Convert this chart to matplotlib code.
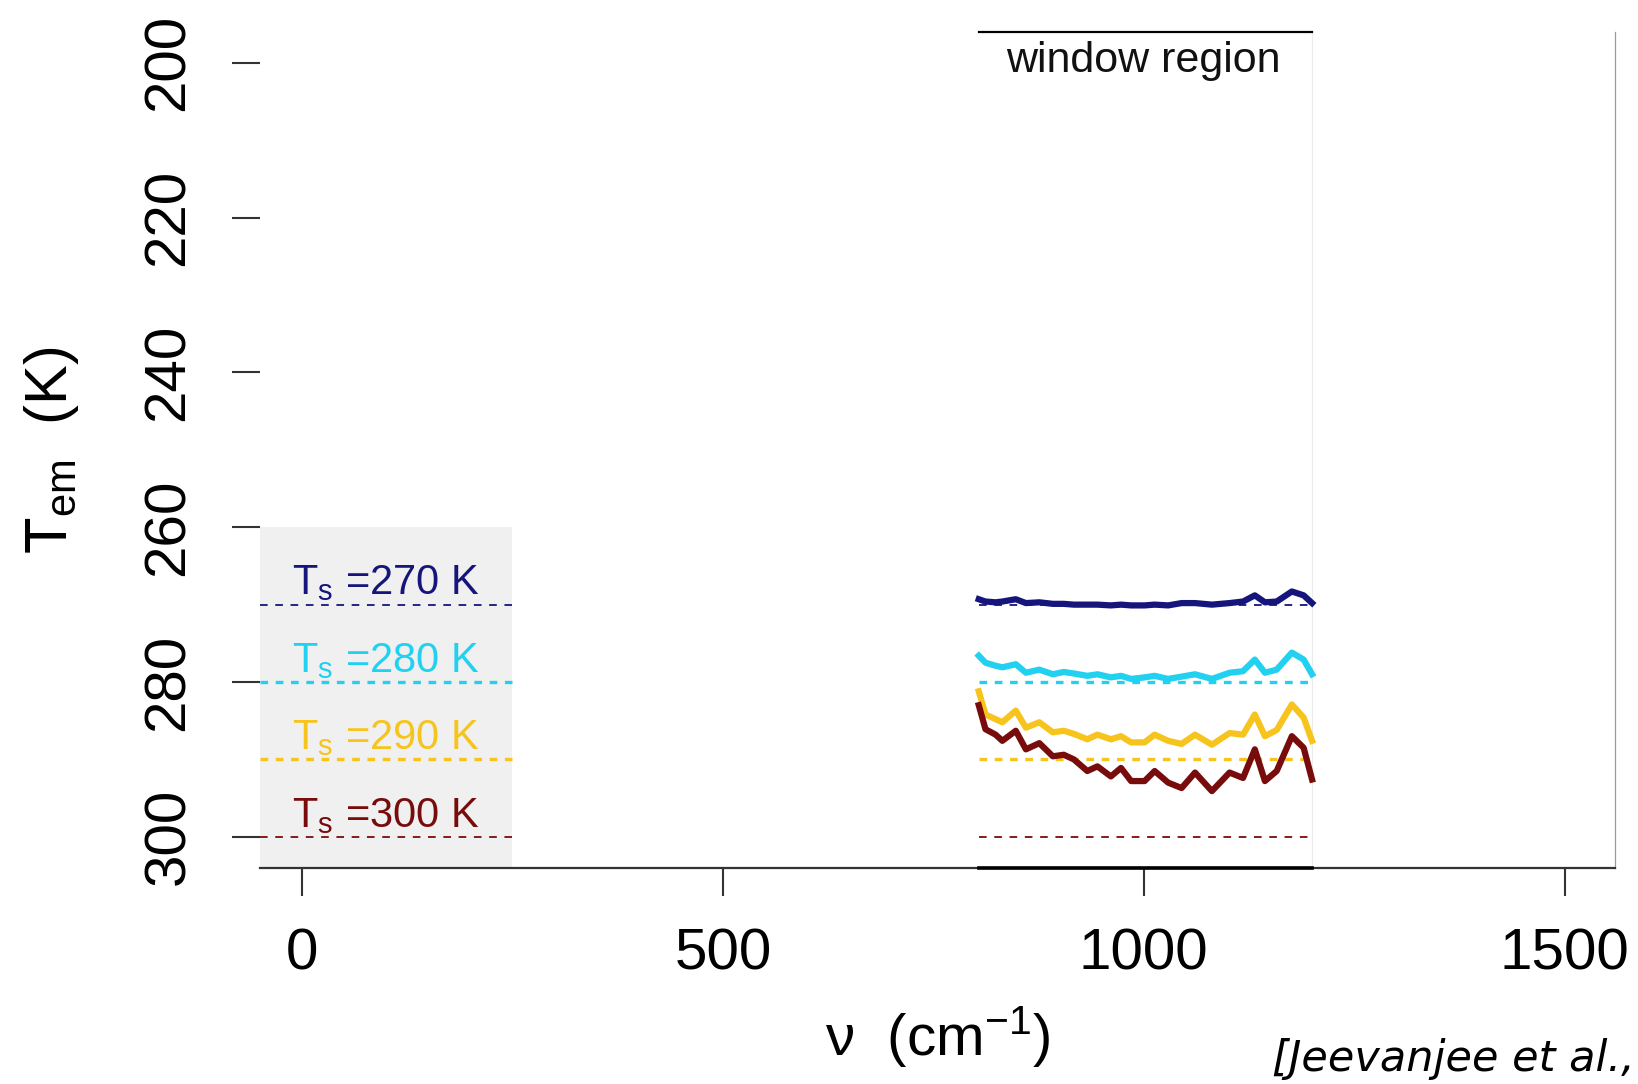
import numpy as np
import matplotlib

matplotlib.use("Agg")
import matplotlib.pyplot as plt

plt.rcParams["font.family"] = ["Liberation Sans", "DejaVu Sans"]
plt.rcParams["mathtext.fontset"] = "custom"
plt.rcParams["mathtext.rm"] = "Liberation Sans"
plt.rcParams["mathtext.it"] = "Liberation Sans:italic"
plt.rcParams["lines.scale_dashes"] = False

# surface temperatures and their colours
surface_temps = [270, 280, 290, 300]
colors = ["#15157c", "#22d0f0", "#f6c41c", "#780c0c"]
dash_widths = [1.3, 2.4, 2.4, 1.3]

# wavenumber grid inside the window region (cm^-1)
nu = [804, 812, 824, 832, 848, 860, 876, 892, 905, 917, 933, 945, 961, 973, 985,
      1001, 1013, 1029, 1045, 1061, 1081, 1102, 1118, 1132, 1144, 1158, 1176, 1190, 1200]

# emission temperature (K) for each surface temperature
tem_270 = [269.3, 269.6, 269.7, 269.6, 269.3, 269.8, 269.7, 269.9, 269.9, 270.0, 270.0,
           270.0, 270.1, 270.0, 270.1, 270.1, 270.0, 270.1, 269.8, 269.8, 270.0, 269.8,
           269.6, 268.8, 269.7, 269.6, 268.3, 268.8, 269.8]
tem_280 = [276.6, 277.5, 277.9, 278.1, 277.7, 278.8, 278.4, 279.0, 278.7, 278.9, 279.2,
           279.0, 279.4, 279.2, 279.6, 279.4, 279.2, 279.6, 279.3, 279.0, 279.6, 278.8,
           278.6, 277.1, 278.8, 278.4, 276.2, 277.1, 279.0]
tem_290 = [281.2, 284.2, 284.8, 285.2, 283.7, 285.9, 285.2, 286.5, 286.3, 286.7, 287.4,
           286.8, 287.4, 287.0, 287.8, 287.8, 286.8, 287.6, 288.0, 286.8, 288.1, 286.6,
           286.8, 284.2, 287.0, 286.2, 282.9, 284.6, 287.6]
tem_300 = [283.0, 286.1, 286.8, 287.6, 286.3, 288.7, 287.9, 289.6, 289.4, 290.0, 291.5,
           290.9, 292.2, 291.1, 292.8, 292.8, 291.5, 293.0, 293.7, 291.7, 294.1, 291.7,
           292.4, 288.7, 292.8, 291.5, 287.0, 288.5, 292.6]
tem_series = [tem_270, tem_280, tem_290, tem_300]

window = (804, 1200)
legend_box_x = (-50, 250)
legend_box_top = 260
xlim = (-50, 1560)
ylim = (304, 196)
xticks = [0, 500, 1000, 1500]
yticks = [200, 220, 240, 260, 280, 300]

fig = plt.figure(figsize=(16.38, 10.84), dpi=100)
ax = fig.add_axes([0.1587, 0.1995, 0.986 - 0.1587, 0.9705 - 0.1995])
ax.set_xlim(*xlim)
ax.set_ylim(*ylim)

# grey legend box
ax.fill_between(legend_box_x, legend_box_top, ylim[0], color="#f0f0f0", lw=0, zorder=0)
ax.plot([window[1], window[1]], ylim, color="#ececec", lw=0.8, zorder=0)

for ts, c, dw, tem in zip(surface_temps, colors, dash_widths, tem_series):
    for seg in (legend_box_x, window):
        ax.plot(seg, [ts, ts], color=c, lw=dw, dashes=(5.5, 5.5), zorder=2)
    ax.plot(nu, tem, color=c, lw=4.5, zorder=3, solid_joinstyle="round")
    ax.text(np.mean(legend_box_x), ts - 1.3, "T$_{\\rm s}$ =%d K" % ts, color=c,
            fontsize=30, ha="center", va="baseline", zorder=4)

# window region frame and label
ax.plot(window, [ylim[1], ylim[1]], color="black", lw=1.6, clip_on=False, zorder=5)
ax.plot(window, [ylim[0], ylim[0]], color="black", lw=2.6, clip_on=False, zorder=5)
ax.text(1000, 201.2, "window region", fontsize=31, ha="center",
        va="baseline", color="#111111")

for side in ("left", "top"):
    ax.spines[side].set_visible(False)
ax.spines["bottom"].set_color("#333333")
ax.spines["bottom"].set_linewidth(1.6)
ax.spines["right"].set_color("#9a9a9a")
ax.spines["right"].set_linewidth(0.9)

ax.set_xticks(xticks)
ax.set_yticks(yticks)
ax.tick_params(axis="x", length=20, width=1.5, color="#333333", labelsize=42, pad=23)
ax.tick_params(axis="y", length=20, width=1.5, color="#333333", labelsize=42, pad=26)
for lab in ax.get_yticklabels():
    lab.set_rotation(90)
    lab.set_va("center")

ax.set_xlabel("ν  (cm$^{-1}$)", fontsize=42, labelpad=16)
ax.set_ylabel("T$_{\\rm em}$  (K)", fontsize=43, labelpad=44)

fig.text(0.998, 0.012, "[Jeevanjee et al.,", fontsize=31, style="italic",
         family="DejaVu Sans", ha="right", va="baseline")

fig.savefig("out.png", dpi=100)
